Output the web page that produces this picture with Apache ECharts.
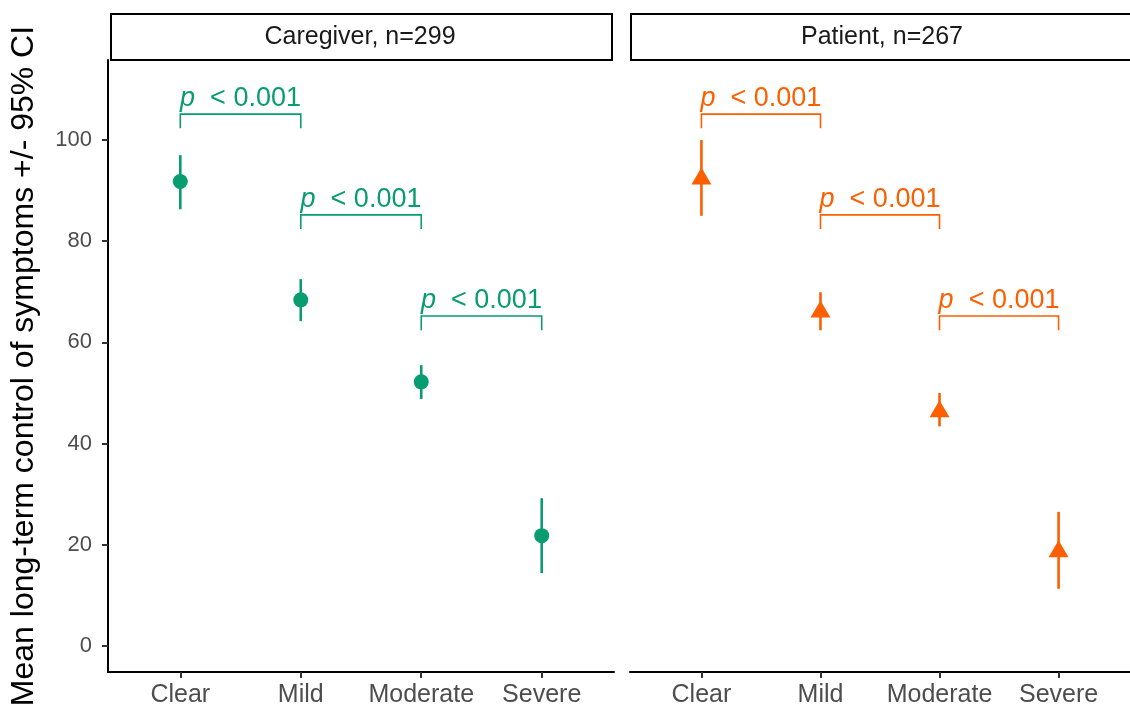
<!DOCTYPE html>
<html>
<head>
<meta charset="utf-8">
<script src="https://cdn.jsdelivr.net/npm/echarts@6/dist/echarts.min.js"></script>
<style>
  html, body { margin: 0; padding: 0; background: #fff; }
  #chart { width: 1130px; height: 711px; }
</style>
</head>
<body>
<div id="chart"></div>
<script>
// data
const categories = ['Clear', 'Mild', 'Moderate', 'Severe'];
const yTicks = [0, 20, 40, 60, 80, 100];

const caregiverMean = [91.8, 68.4, 52.2, 21.8];
const caregiverLow  = [86.3, 64.2, 48.8, 14.4];
const caregiverHigh = [97.0, 72.5, 55.5, 29.2];

const patientMean = [92.9, 66.6, 46.9, 19.2];
const patientLow  = [85.0, 62.4, 43.4, 11.3];
const patientHigh = [100.0, 69.9, 50.0, 26.5];

// pairwise comparisons: [from, to], bracket height
const comparePairs = [['Clear', 'Mild'], ['Mild', 'Moderate'], ['Moderate', 'Severe']];
const bracketHeights = [105.1, 85.2, 65.2];
const pText = '< 0.001';

const panels = [
  { title: 'Caregiver, n=299', color: '#089C71', symbol: 'circle', size: 15,
    mean: caregiverMean, low: caregiverLow, high: caregiverHigh },
  { title: 'Patient, n=267', color: '#FC5F00', symbol: 'triangle', size: [20, 17],
    mean: patientMean, low: patientLow, high: patientHigh }
];

const FONT = '"Liberation Sans", Arial, Helvetica, sans-serif';
const TIP = 2.8;

const chart = echarts.init(document.getElementById('chart'));

const grids = [
  { left: 108, top: 60, width: 506, height: 612 },
  { left: 630, top: 60, width: 506, height: 612 }
];

const xAxes = grids.map((g, i) => ({
  type: 'value', gridIndex: i, min: 0.4, max: 4.6,
  splitLine: { show: false },
  axisLine: { show: true, onZero: false, lineStyle: { color: '#000', width: 2 } },
  axisTick: { show: true, customValues: [1, 2, 3, 4], length: 6, lineStyle: { color: '#333', width: 2 } },
  axisLabel: {
    customValues: [1, 2, 3, 4],
    formatter: v => categories[Math.round(v) - 1] || '',
    color: '#4D4D4D', fontSize: 25, fontFamily: FONT, margin: 11
  }
}));

const yAxes = grids.map((g, i) => ({
  type: 'value', gridIndex: i, min: -5.14, max: 115.8,
  splitLine: { show: false },
  axisLine: { show: i === 0, onZero: false, lineStyle: { color: '#000', width: 2 } },
  axisTick: { show: i === 0, customValues: yTicks, length: 6, lineStyle: { color: '#333', width: 2 } },
  axisLabel: {
    show: i === 0, customValues: yTicks,
    color: '#4D4D4D', fontSize: 22, fontFamily: FONT, margin: 16
  },
  name: i === 0 ? 'Mean long-term control of symptoms +/- 95% CI' : '',
  nameLocation: 'middle', nameGap: 68,
  nameTextStyle: { color: '#000', fontSize: 32, fontFamily: FONT }
}));

const series = [];
panels.forEach((p, i) => {
  // error bars
  series.push({
    type: 'custom', xAxisIndex: i, yAxisIndex: i,
    data: categories.map((c, k) => [k + 1, p.low[k], p.high[k]]),
    renderItem: (params, api) => {
      const a = api.coord([api.value(0), api.value(1)]);
      const b = api.coord([api.value(0), api.value(2)]);
      return { type: 'line', shape: { x1: a[0], y1: a[1], x2: b[0], y2: b[1] },
        style: { stroke: p.color, lineWidth: 2.6 } };
    },
    silent: true
  });
  // means
  series.push({
    type: 'scatter', xAxisIndex: i, yAxisIndex: i,
    symbol: p.symbol, symbolSize: p.size,
    itemStyle: { color: p.color, opacity: 1 },
    data: categories.map((c, k) => [k + 1, p.mean[k]]),
    silent: true
  });
  // significance brackets
  series.push({
    type: 'custom', xAxisIndex: i, yAxisIndex: i,
    data: comparePairs.map((pair, k) => [
      categories.indexOf(pair[0]) + 1, categories.indexOf(pair[1]) + 1, bracketHeights[k]
    ]),
    renderItem: (params, api) => {
      const y = api.value(2);
      const l = api.coord([api.value(0), y]);
      const r = api.coord([api.value(1), y]);
      const lt = api.coord([api.value(0), y - TIP]);
      return {
        type: 'group',
        children: [
          { type: 'polyline',
            shape: { points: [[l[0], lt[1]], l, r, [r[0], lt[1]]] },
            style: { stroke: p.color, lineWidth: 1.6, fill: null } },
          { type: 'text', x: (l[0] + r[0]) / 2, y: l[1] - 2,
            style: {
              text: '{i|p}  ' + pText,
              align: 'center', verticalAlign: 'bottom',
              fill: p.color, fontSize: 27, fontFamily: FONT,
              rich: { i: { fontStyle: 'italic', fontSize: 27, fontFamily: FONT, fill: p.color } }
            } }
        ]
      };
    },
    silent: true
  });
});

// facet strips
const graphic = [];
const strips = [{ x: 110, w: 501 }, { x: 630, w: 510 }];
strips.forEach((s, i) => {
  graphic.push({ type: 'rect', left: s.x, top: 13, shape: { width: s.w, height: 46 },
    style: { fill: '#fff', stroke: '#000', lineWidth: 2 }, silent: true });
  graphic.push({ type: 'text', x: i === 0 ? 360 : 882, y: 37,
    style: { text: panels[i].title, align: 'center', verticalAlign: 'middle',
      fontSize: 25, fontFamily: FONT, fill: '#1A1A1A' }, silent: true });
});

chart.setOption({
  animation: false,
  backgroundColor: '#fff',
  grid: grids,
  xAxis: xAxes,
  yAxis: yAxes,
  series: series,
  graphic: graphic
});
</script>
</body>
</html>
